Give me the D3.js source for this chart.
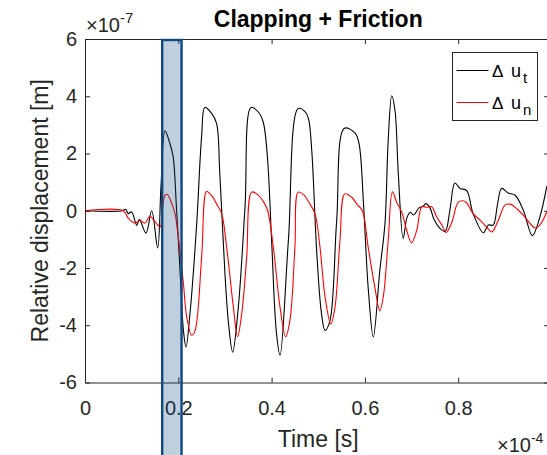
<!DOCTYPE html>
<html>
<head>
<meta charset="utf-8">
<script src="https://cdn.jsdelivr.net/npm/d3@7"></script>
<style>
  body { margin: 0; background: #fff; }
  text { font-family: "Liberation Sans", Arial, Helvetica, sans-serif; fill: #262626; }
</style>
</head>
<body>
<script>
//Chart texts
var title = "Clapping + Friction"
var xLabel = "Time [s]"
var yLabel = "Relative displacement [m]"
var xExponent = "-4"
var yExponent = "-7"

//tick values (time in 1e-4 s, displacement in 1e-7 m)
var xTicks = [0, 0.2, 0.4, 0.6, 0.8]
var xTickLabels = ["0", "0.2", "0.4", "0.6", "0.8"]
var yTicks = [-6, -4, -2, 0, 2, 4, 6]
var yTickLabels = ["-6", "-4", "-2", "0", "2", "4", "6"]
var xLimit = [0, 0.995]
var yLimit = [-6, 6]

//highlighted time window
var windowStart = 0.1655
var windowEnd = 0.207

//series: tangential relative displacement (delta u_t)
var timeUt = [0, 0.080, 0.087, 0.093, 0.100, 0.111, 0.1165, 0.1308, 0.143, 0.1558, 0.163, 0.1715, 0.182, 0.189, 0.196, 0.204, 0.211,
  0.2165, 0.225, 0.239, 0.250, 0.257, 0.2715, 0.282, 0.289, 0.300, 0.308, 0.3165, 0.3287, 0.343, 0.356, 0.3715, 0.382, 0.391,
  0.400, 0.410, 0.418, 0.436, 0.457, 0.4716, 0.479, 0.486, 0.4966, 0.507, 0.5145, 0.525, 0.5395, 0.556, 0.579, 0.5875, 0.597,
  0.607, 0.618, 0.632, 0.643, 0.650, 0.6575, 0.6645, 0.6716, 0.682, 0.690, 0.697, 0.704, 0.716, 0.724, 0.731, 0.7395, 0.748,
  0.760, 0.772, 0.782, 0.793, 0.804, 0.818, 0.832, 0.854, 0.8645, 0.875, 0.884, 0.893, 0.907, 0.922, 0.9396, 0.959, 0.975, 0.99]
var ut = [0, 0, 0.05, -0.10, -0.04, -0.51, -0.30, -0.78, 0.0, -1.30, 0.9, 2.79, 2.35, 1.88, 0.13, -2.19, -4.18,
  -4.76, -3.6, -0.57, 2.6, 3.61, 3.40, 3.05, 1.30, -2.2, -4.0, -4.94, -3.36, 0.13, 3.61, 3.45, 3.10, 1.88,
  -1.03, -4.2, -5.05, -1.03, 3.57, 3.46, 3.22, 2.12, -1.41, -3.6, -4.18, -3.85, -0.34, 2.88, 2.71, 2.34, 0.24,
  -2.68, -4.41, -2.08, -0.45, 2.47, 4.02, 3.51, 1.30, -0.97, -0.25, -0.05, -0.15, 0.10, 0.15, 0.25, 0.10, -0.30,
  -0.60, -0.72, 0.0, 0.97, 0.78, 0.71, -0.10, -0.77, -0.50, -0.50, 0.20, 0.78, 0.62, 0.54, 0.02, -0.87, -0.22, 0.86]

//series: normal relative displacement (delta u_n)
var timeUn = [0, 0.082, 0.093, 0.107, 0.118, 0.1286, 0.139, 0.150, 0.161, 0.1655, 0.1715, 0.1765, 0.186, 0.193, 0.200, 0.211,
  0.218, 0.2287, 0.236, 0.250, 0.2605, 0.268, 0.275, 0.282, 0.293, 0.3036, 0.318, 0.327, 0.336, 0.3466, 0.357, 0.368, 0.383,
  0.3916, 0.4037, 0.418, 0.430, 0.4394, 0.450, 0.457, 0.468, 0.482, 0.493, 0.5037, 0.5145, 0.527, 0.536, 0.5466, 0.557,
  0.5717, 0.5824, 0.5945, 0.607, 0.6216, 0.632, 0.6395, 0.650, 0.659, 0.668, 0.679, 0.6896, 0.700, 0.711, 0.722, 0.732,
  0.743, 0.754, 0.765, 0.774, 0.786, 0.800, 0.810, 0.818, 0.832, 0.847, 0.861, 0.872, 0.886, 0.900, 0.911, 0.925, 0.943,
  0.9646, 0.975, 0.99]
var un = [0, 0, -0.27, -0.43, -0.34, -0.43, -0.19, -0.38, -0.57, 0.0, 0.54, 0.57, 0.25, -0.10, -0.92, -2.55,
  -3.7, -4.35, -4.18, -1.62, 0.68, 0.59, 0.45, 0.24, -0.10, -1.27, -3.36, -4.40, -3.59, -1.62, 0.65, 0.59, 0.30,
  0.0, -1.27, -3.36, -4.40, -3.82, -1.27, 0.65, 0.57, 0.24, -0.10, -1.27, -3.0, -3.96, -3.36, -1.03, 0.59,
  0.47, 0.24, 0.0, -1.27, -2.70, -3.50, -3.0, -1.03, 0.66, 0.30, -0.05, -0.68, -1.12, -0.69, 0.14, 0.12,
  0.14, -0.22, -0.50, -0.76, -0.42, 0.30, 0.35, 0.28, -0.10, -0.33, -0.57, -0.74, -0.33, 0.19, 0.23, 0.08, -0.22,
  -0.60, -0.50, -0.04]

var legendNames = ["t", "n"]
var seriesColors = ["#000000", "#ff0000"]
//-----------------------------------------------------------------

var width = 547, height = 455
var box = {left: 85, top: 39, bottom: 382.5, unit: 466.5} //axes box; 'unit' = pixels per 1e-4 s (right edge falls off the page)

var svg = d3.select("body").append("svg")
  .attr("width", width)
  .attr("height", height)

svg.append("rect").attr("width", width).attr("height", height).attr("fill", "#fff")

var x = d3.scaleLinear().domain(xLimit).range([box.left, box.left + box.unit * (xLimit[1] - xLimit[0])])
var y = d3.scaleLinear().domain(yLimit).range([box.bottom, box.top])
var right = x.range()[1]

//axes (ticks point inward like matlab)
var fmtX = function(d){ return xTickLabels[xTicks.indexOf(d)]; }
var fmtY = function(d){ return yTickLabels[yTicks.indexOf(d)]; }

var gx = svg.append("g")
  .attr("transform", "translate(0," + box.bottom + ")")
  .call(d3.axisBottom(x).tickValues(xTicks).tickFormat(fmtX).tickSizeInner(-5).tickSizeOuter(0).tickPadding(18))
gx.selectAll("text").style("font-size", "20px")

svg.append("g")
  .attr("transform", "translate(0," + box.top + ")")
  .call(d3.axisTop(x).tickValues(xTicks).tickFormat("").tickSizeInner(-5).tickSizeOuter(0))

var gy = svg.append("g")
  .attr("transform", "translate(" + box.left + ",0)")
  .call(d3.axisLeft(y).tickValues(yTicks).tickFormat(fmtY).tickSizeInner(-5).tickSizeOuter(0).tickPadding(8))
gy.selectAll("text").style("font-size", "20px")

svg.append("g")
  .attr("transform", "translate(" + right + ",0)")
  .call(d3.axisRight(y).tickValues(yTicks).tickFormat("").tickSizeInner(-5).tickSizeOuter(0))

svg.selectAll(".domain, .tick line").attr("stroke", "#262626").attr("stroke-width", 1)

//lines
var line = d3.line()
  .x(function(d){ return x(d[0]); })
  .y(function(d){ return y(d[1]); })
  .curve(d3.curveCatmullRom.alpha(0.5))

var series = [d3.zip(timeUt, ut), d3.zip(timeUn, un)]

svg.append("g").selectAll("path")
  .data(series)
  .enter()
  .append("path")
  .attr("d", line)
  .attr("fill", "none")
  .attr("stroke", function(d, i){ return seriesColors[i]; })
  .attr("stroke-width", 1.1)

//highlight window (annotation rectangle, runs past the axes)
svg.append("rect")
  .attr("x", x(windowStart))
  .attr("y", y(yLimit[1]) + 1)
  .attr("width", x(windowEnd) - x(windowStart))
  .attr("height", height)
  .attr("fill", "#0e4a84")
  .attr("fill-opacity", 0.265)
  .attr("stroke", "#0e4a84")
  .attr("stroke-width", 2.4)

//title, labels, exponents
var mid = box.left + box.unit / 2
svg.append("text")
  .attr("x", mid)
  .attr("y", 27)
  .attr("text-anchor", "middle")
  .style("font-size", "23px")
  .style("font-weight", "bold")
  .style("fill", "#000")
  .text(title)

svg.append("text")
  .attr("x", mid)
  .attr("y", 447)
  .attr("text-anchor", "middle")
  .style("font-size", "23px")
  .text(xLabel)

svg.append("text")
  .attr("transform", "translate(48," + y(0) + ") rotate(-90)")
  .attr("text-anchor", "middle")
  .style("font-size", "23px")
  .text(yLabel)

var ey = svg.append("text").attr("x", 86).attr("y", 32).style("font-size", "20px")
ey.append("tspan").text("\u00d710")
ey.append("tspan").attr("dy", -9).style("font-size", "15px").text(yExponent)

var ex = svg.append("text").attr("x", 497).attr("y", 452).style("font-size", "20px")
ex.append("tspan").text("\u00d710")
ex.append("tspan").attr("dy", -9).style("font-size", "14px").text(xExponent)

//legend
var legend = svg.append("g")
legend.append("rect")
  .attr("x", 452.5).attr("y", 52.5)
  .attr("width", 85).attr("height", 68)
  .attr("fill", "#fff")
  .attr("stroke", "#262626")
  .attr("stroke-width", 1)

var item = legend.selectAll("g.item")
  .data(legendNames)
  .enter()
  .append("g")
  .attr("class", "item")
  .attr("transform", function(d, i){ return "translate(0," + (70.5 + i * 32) + ")"; })

item.append("line")
  .attr("x1", 456.5).attr("x2", 488.5)
  .attr("stroke", function(d, i){ return seriesColors[i]; })
  .attr("stroke-width", 1.1)

var itemText = item.append("text")
  .attr("x", 492)
  .attr("y", 6)
  .style("font-size", "17px")
  .style("fill", "#000")
itemText.append("tspan").text("\u0394")
itemText.append("tspan").attr("x", 511).style("font-size", "18px").text("u")
itemText.append("tspan").attr("dy", 6).attr("dx", 2).style("font-size", "15px").text(function(d){ return d; })
</script>
</body>
</html>
